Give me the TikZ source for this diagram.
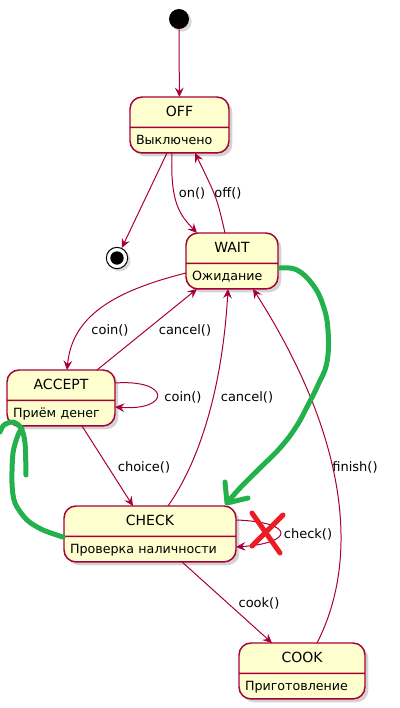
\documentclass[tikz,border=0pt]{standalone}
\usepackage{fontspec}
\setmainfont{DejaVu Sans}
\usetikzlibrary{arrows.meta,calc,shapes.multipart,shadows}
\definecolor{umlRed}{RGB}{168,0,54}
\definecolor{umlYellow}{RGB}{254,254,206}
\definecolor{inkGreen}{RGB}{34,177,76}
\definecolor{inkRed}{RGB}{237,28,36}
\newcommand{\stitle}[1]{\fontsize{10.5pt}{12pt}\selectfont\rule[-7.5pt]{0pt}{21.75pt}\hfill#1\hfill\mbox{}}
\newcommand{\sdesc}[1]{\fontsize{9.5pt}{11pt}\selectfont\rule[-6pt]{0pt}{18pt}#1}

\begin{document}
\begin{tikzpicture}[
  x=0.75pt, y=-0.75pt,
  state/.style={rectangle split, rectangle split parts=2, draw=umlRed, line width=1.1pt, fill=umlYellow, rounded corners=9pt, inner xsep=4.5pt, inner ysep=0pt, outer sep=0pt, align=left, anchor=north west, drop shadow={shadow xshift=2.5pt, shadow yshift=-2.5pt, opacity=0.35}},
  startdot/.style={circle, fill=black, minimum size=15pt, inner sep=0pt, drop shadow={shadow xshift=2pt, shadow yshift=-2pt, opacity=0.3}},
  enddot/.style={circle, draw=black, line width=0.75pt, fill=white, minimum size=16pt, inner sep=0pt, path picture={\fill[black] (path picture bounding box.center) circle (5pt);}, drop shadow={shadow xshift=2pt, shadow yshift=-2pt, opacity=0.3}},
  trans/.style={draw=umlRed, line width=0.75pt, -{Stealth[length=7pt, width=6.5pt, inset=2.5pt]}},
  lbl/.style={font=\fontsize{9.75pt}{11pt}\selectfont, inner sep=0pt},
  greenink/.style={draw=inkGreen, line width=3.75pt, line cap=round, line join=round},
  redink/.style={draw=inkRed, line width=3.75pt, line cap=round}
]
  \useasboundingbox (0,0) rectangle (400,708);

  \node[startdot] (start) at (179,19) {};
  \node[enddot] (end) at (117,258) {};
  \node[state, text width=65.25pt] (off) at (130,97) {\stitle{OFF}\nodepart{two}\sdesc{Выключено}};
  \node[state, text width=60pt] (wait) at (186,233) {\stitle{WAIT}\nodepart{two}\sdesc{Ожидание}};
  \node[state, text width=72pt] (accept) at (7,370) {\stitle{ACCEPT}\nodepart{two}\sdesc{Приём денег}};
  \node[state, text width=120pt] (check) at (64,506) {\stitle{CHECK}\nodepart{two}\sdesc{Проверка наличности}};
  \node[state, text width=85.5pt] (cook) at (239,643) {\stitle{COOK}\nodepart{two}\sdesc{Приготовление}};

  \draw[trans] (start) -- (off);
  \draw[trans] ($(off.south west)+(37,0)$) -- (end);
  \draw[trans] ($(off.south west)+(42,0)$) .. controls +(-2,50) and +(-17,-18) .. ($(wait.north west)+(11,0)$) node[lbl, at={(192,193)}] {on()};
  \draw[trans] ($(wait.north west)+(39,0)$) .. controls +(-8,-35) .. ($(off.south west)+(65,0)$) node[lbl, at={(228,193)}] {off()};
  \draw[trans] ($(wait.north west)+(0,40)$) .. controls +(-76,19) and +(5,-52) .. ($(accept.north west)+(60,0)$) node[lbl, at={(110,330)}] {coin()};
  \draw[trans] ($(accept.north west)+(90,0)$) -- ($(wait.south west)+(11,0)$) node[lbl, at={(185,330)}] {cancel()};
  \draw[trans] ($(accept.north east)+(0,13)$) .. controls +(56,-4) and +(56,4) .. ($(accept.north east)+(0,37)$) node[lbl, at={(183,397)}] {coin()};
  \draw[trans] ($(accept.south west)+(75,0)$) -- ($(check.north west)+(69,0)$) node[lbl, at={(144,467)}] {choice()};
  \draw[trans] ($(check.north west)+(104,0)$) .. controls +(35,-50) and +(-5,90) .. ($(wait.south west)+(42,0)$) node[lbl, at={(247,397)}] {cancel()};
  \draw[trans] ($(check.south west)+(118,0)$) -- ($(cook.north west)+(33,0)$) node[lbl, at={(259,603)}] {cook()};
  \draw[trans] ($(cook.north west)+(78,0)$) .. controls +(45,-88) and +(92,144) .. ($(wait.south west)+(67,0)$) node[lbl, at={(355,467)}] {finish()};
  \draw[trans] ($(check.north east)+(0,14)$) .. controls +(59,2) and +(59,-4) .. ($(check.north east)+(0,41)$) node[lbl, at={(308,534)}] {check()};

  % hand-drawn marks
  \draw[greenink] plot[smooth, tension=0.7] coordinates {(280,268) (297,270) (313,285) (323,305) (328,330) (327,362) (318,385) (308,405) (296,427) (280,448) (260,468) (240,488) (228,502)};
  \draw[greenink] (225,482) -- (227,503) -- (248,498);
  \draw[greenink] plot[smooth] coordinates {(63,537) (43,530) (27,520) (15,503) (12,483) (13,453) (18,435) (22,428)};
  \draw[greenink] plot[smooth] coordinates {(0,432) (4,425) (13,422) (21,428) (25,443) (26,475)};
  \draw[redink] (252,513) -- (280,553);
  \draw[redink] (283,515) -- (252,546);
\end{tikzpicture}
\end{document}
